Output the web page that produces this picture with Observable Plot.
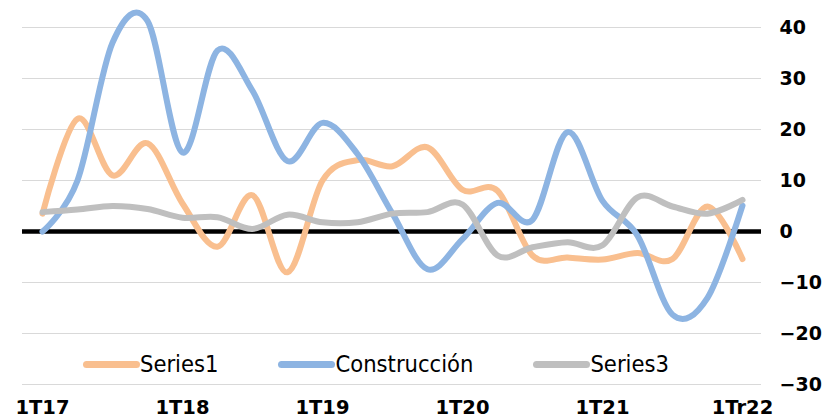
<!DOCTYPE html>
<html>
<head>
<meta charset="utf-8">
<script src="https://cdn.jsdelivr.net/npm/d3@7"></script>
<script src="https://cdn.jsdelivr.net/npm/@observablehq/plot@0.6"></script>
<style>
  html, body { margin: 0; padding: 0; background: #fff; }
  #wrap { position: relative; width: 823px; height: 419px; overflow: hidden; }
  #legend { position: absolute; left: 83px; top: 350px; display: flex; align-items: center;
            font-family: "DejaVu Sans Condensed", "DejaVu Sans", sans-serif; font-size: 23.5px; color: #000; }
  .item { display: flex; align-items: center; margin-right: 60px; }
  .sw { width: 57px; height: 7px; border-radius: 4px; }
</style>
</head>
<body>
<div id="wrap"><div id="legend"></div></div>
<script>
const quarters = ["1T17","2T17","3T17","4T17","1T18","2T18","3T18","4T18","1T19","2T19","3T19","4T19",
                  "1T20","2T20","3T20","4T20","1T21","2T21","3T21","4T21","1Tr22"];
const xTickLabels = ["1T17","1T18","1T19","1T20","1T21","1Tr22"];
const yTicks = [-30,-20,-10,0,10,20,30,40];
const seriesNames = ["Series1","Construcción","Series3"];
const seriesColors = ["#F9BF8F","#8DB4E2","#BFBFBF"];
const series1 =      [3.5, 22.1, 11.0, 17.3, 5.5, -3.0, 7.1, -8.0, 10.0, 14.0, 12.8, 16.5, 8.2, 8.0, -4.7, -5.1, -5.5, -4.2, -5.4, 4.9, -5.4];
const construccion = [0.0, 10.0, 37.0, 41.3, 15.5, 35.5, 27.6, 13.8, 21.3, 15.2, 3.5, -7.4, -1.5, 5.6, 2.3, 19.5, 6.0, -0.8, -16.3, -13.0, 5.1];
const series3 =      [3.8, 4.3, 5.0, 4.4, 2.7, 2.8, 0.5, 3.3, 1.8, 1.8, 3.5, 3.8, 5.3, -4.7, -3.1, -2.1, -2.7, 6.7, 4.9, 3.5, 6.2];

const values = [series1, construccion, series3];
const data = [];
seriesNames.forEach((s, k) => quarters.forEach((q, i) => data.push({s, q, v: values[k][i]})));

const chart = Plot.plot({
  width: 823, height: 419,
  marginLeft: 22, marginRight: 62, marginTop: 27, marginBottom: 35,
  style: {fontFamily: "DejaVu Sans, sans-serif", background: "white", color: "black", overflow: "visible"},
  x: {type: "point", domain: quarters, padding: 0.5},
  y: {domain: [-30, 40]},
  color: {domain: seriesNames, range: seriesColors},
  marks: [
    Plot.gridY(yTicks, {stroke: "#D9D9D9", strokeOpacity: 1, strokeWidth: 1}),
    Plot.ruleY([0], {stroke: "black", strokeWidth: 4.5}),
    Plot.lineY(data, {x: "q", y: "v", z: "s", stroke: "s", strokeWidth: 6, curve: "cardinal", tension: 0, strokeLinecap: "round"}),
    Plot.axisY(yTicks, {anchor: "right", tickSize: 0, tickPadding: 18, fontSize: 19, fontWeight: "bold", label: null}),
    Plot.axisX(xTickLabels, {anchor: "bottom", tickSize: 0, tickPadding: 16, fontSize: 19.5, fontWeight: "bold", label: null})
  ]
});
document.getElementById("wrap").prepend(chart);

const legend = document.getElementById("legend");
seriesNames.forEach((s, k) => {
  const it = document.createElement("div");
  it.className = "item";
  const sw = document.createElement("div");
  sw.className = "sw";
  sw.style.background = seriesColors[k];
  const t = document.createElement("span");
  t.textContent = s;
  it.append(sw, t);
  legend.append(it);
});
</script>
</body>
</html>
